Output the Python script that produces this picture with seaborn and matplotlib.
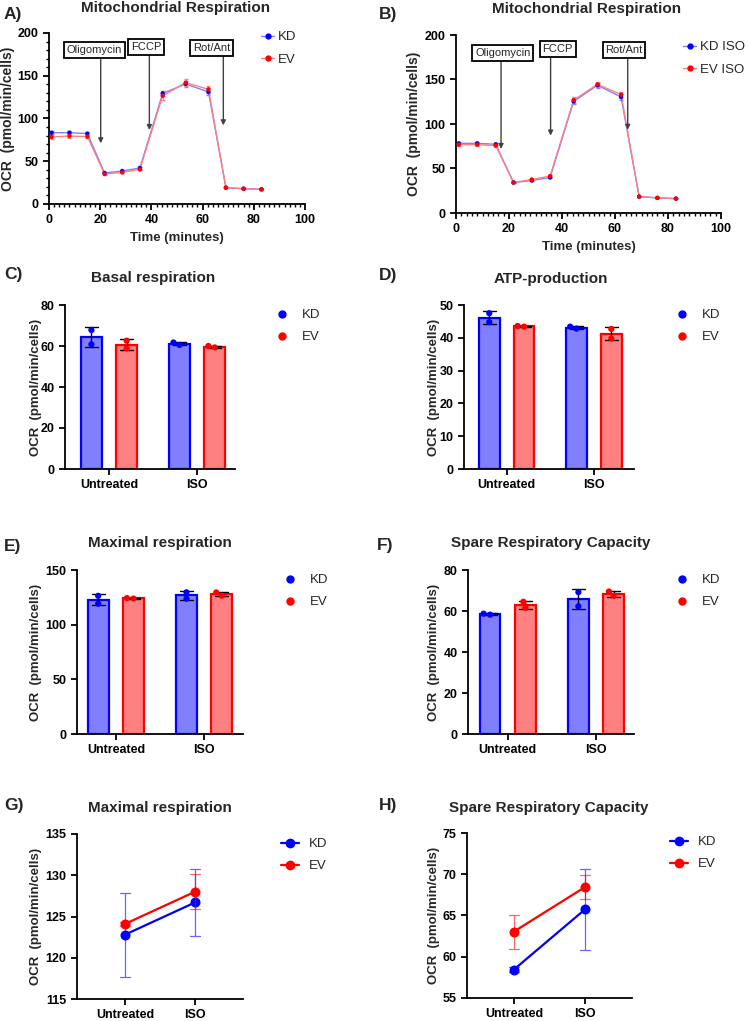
import pandas as pd
import seaborn as sns
import matplotlib.pyplot as plt
import matplotlib.ticker as mticker
from matplotlib.lines import Line2D

# ---------------- data ----------------
# Seahorse trace (A: untreated, B: ISO)
time_min = [1, 8, 15, 21.7, 28.6, 35.5, 44.4, 53.4, 62.3, 69.1, 76, 83]
ocr_kd = [83.4, 83.4, 82.3, 36.3, 38.6, 42.1, 129.4, 140.4, 131.0, 19.1, 17.9, 17.2]
ocr_ev = [78.4, 79.5, 78.8, 35.1, 37.0, 40.5, 126.7, 141.9, 134.1, 19.1, 17.9, 17.2]
sd_kd = [1.5, 1.5, 1.5, 1, 1, 1, 3, 3, 3, 0.5, 0.5, 0.5]
sd_ev = [2, 2, 2, 1, 1, 1, 5, 4, 4, 0.5, 0.5, 0.5]
ocr_kd_iso = [78.3, 78.3, 77.2, 34.2, 36.5, 39.9, 125.4, 143.5, 130.3, 18.4, 17.0, 16.2]
ocr_ev_iso = [76.8, 76.8, 75.7, 34.2, 37.7, 41.4, 126.9, 144.6, 133.0, 18.4, 17.0, 16.2]
sd_kd_iso = [1, 1, 1, 1, 1, 1, 3, 3, 3, 0.5, 0.5, 0.5]
sd_ev_iso = [1, 1, 1, 1, 1, 1, 3, 3, 3, 0.5, 0.5, 0.5]

# replicate values for the summary panels
treatment = ["Untreated"] * 4 + ["ISO"] * 4
cell_line = ["KD", "KD", "EV", "EV"] * 2
basal = [67.8, 60.8, 62.6, 58.8, 60.5, 61.7, 59.3, 60.0]
atp = [47.5, 44.8, 43.6, 43.4, 42.8, 43.4, 42.7, 39.8]
maximal = [126.4, 119.2, 124.3, 123.9, 129.6, 123.8, 129.5, 126.5]
spare = [58.2, 58.7, 64.5, 61.6, 69.2, 62.3, 69.5, 67.4]

treat_order = ["Untreated", "ISO"]
cell_order = ["KD", "EV"]

# ---------------- style ----------------
sns.set_theme(style="ticks")
plt.rcParams["font.family"] = ["Liberation Sans", "DejaVu Sans"]
plt.rcParams.update({
    "font.weight": "bold",
    "axes.labelweight": "bold",
    "axes.linewidth": 1.3,
    "xtick.major.width": 1.3,
    "ytick.major.width": 1.3,
    "xtick.major.size": 4,
    "ytick.major.size": 4,
    "xtick.labelsize": 9,
    "ytick.labelsize": 9,
    "xtick.color": "black",
    "ytick.color": "black",
    "axes.edgecolor": "black",
})

BLUE, RED = "#0000ff", "#ff0000"
LBLUE, LRED = "#8080ff", "#ff8080"

W, H = 748, 1021
fig = plt.figure(figsize=(W / 100, H / 100), dpi=100)


def add_ax(left, top, right, bottom):
    ax = fig.add_axes([left / W, 1 - bottom / H, (right - left) / W, (bottom - top) / H])
    sns.despine(ax=ax)
    return ax


def legend_at(ax, handles, labels, x, y, **kw):
    ax.legend(handles, labels, loc="upper left", bbox_to_anchor=(x / W, 1 - y / H),
              bbox_transform=fig.transFigure, frameon=False, borderpad=0,
              borderaxespad=0, prop={"weight": "normal", "size": 9.5}, **kw)


def ftext(x, y, s, size, **kw):
    fig.text(x / W, 1 - y / H, s, fontsize=size, fontweight="bold", va="center", **kw)


def seahorse(ax, kd, ev, kd_sd, ev_sd, names, boxes, lab_x):
    df = pd.DataFrame({"time": time_min * 2, "ocr": kd + ev,
                       "group": [names[0]] * len(kd) + [names[1]] * len(ev)})
    sns.lineplot(data=df, x="time", y="ocr", hue="group", palette=[LBLUE, LRED],
                 linewidth=1, legend=False, ax=ax)
    ax.errorbar(time_min, kd, yerr=kd_sd, fmt="none", ecolor=LBLUE, elinewidth=0.8, capsize=1.5)
    ax.errorbar(time_min, ev, yerr=ev_sd, fmt="none", ecolor=LRED, elinewidth=0.8, capsize=1.5)
    sns.scatterplot(data=df, x="time", y="ocr", hue="group", palette=[BLUE, RED],
                    s=10, linewidth=0, legend=False, ax=ax, zorder=3)
    for label, bx, by, arx, ary0, ary1 in boxes:
        ax.annotate("", xy=(arx, ary1), xytext=(arx, ary0),
                    arrowprops=dict(arrowstyle="-|>", color="0.25", lw=1,
                                    shrinkA=0, shrinkB=0, mutation_scale=7), zorder=2)
        ax.text(bx, by, label, ha="center", va="center", fontsize=8, fontweight="normal",
                bbox=dict(boxstyle="square,pad=0.25", fc="white", ec="black", lw=1.3), zorder=4)
    ax.set_xlim(0, 100)
    ax.set_ylim(0, 200)
    ax.set_xticks(range(0, 101, 20))
    ax.set_yticks(range(0, 201, 50))
    ax.xaxis.set_minor_locator(mticker.MultipleLocator(2))
    ax.tick_params(axis="x", which="minor", length=2.5, width=1)
    ax.set_xlabel("Time (minutes)", fontsize=9.5)
    ax.set_ylabel("OCR  (pmol/min/cells)", fontsize=10)
    ax.yaxis.set_label_coords(lab_x, 0.5)
    handles = [Line2D([], [], color=LBLUE, lw=1, marker="o", ms=3.5, mfc=BLUE, mec=BLUE),
               Line2D([], [], color=LRED, lw=1, marker="o", ms=3.5, mfc=RED, mec=RED)]
    return handles


def bar_panel(ax, values, ymax, step, xlim, lab_x):
    df = pd.DataFrame({"treatment": treatment, "cell": cell_line, "ocr": values})
    common = dict(data=df, x="treatment", y="ocr", hue="cell", order=treat_order,
                  hue_order=cell_order, width=0.8, gap=0.41, saturation=1,
                  legend=False, ax=ax)
    sns.barplot(**common, palette=[LBLUE, LRED], errorbar=None, linewidth=0)
    sns.barplot(**common, palette=[BLUE, RED], fill=False, linewidth=1.6,
                errorbar="sd", capsize=0.3, err_kws={"color": "black", "linewidth": 1})
    sns.swarmplot(data=df, x="treatment", y="ocr", hue="cell", order=treat_order,
                  hue_order=cell_order, palette=[BLUE, RED], dodge=True, size=4.5,
                  legend=False, ax=ax)
    ax.set_ylim(0, ymax)
    ax.set_yticks(range(0, ymax + 1, step))
    ax.set_xlim(*xlim)
    ax.set_xlabel("")
    ax.set_ylabel("OCR  (pmol/min/cells)", fontsize=9.5)
    ax.yaxis.set_label_coords(lab_x, 0.5)
    handles = [Line2D([], [], ls="none", marker="o", ms=5, color=BLUE),
               Line2D([], [], ls="none", marker="o", ms=5, color=RED)]
    return handles


def point_panel(ax, values, ylim, xlim, lab_x):
    df = pd.DataFrame({"treatment": treatment, "cell": cell_line, "ocr": values})
    sns.pointplot(data=df, x="treatment", y="ocr", hue="cell", order=treat_order,
                  hue_order=cell_order, palette=[BLUE, RED], errorbar="sd", capsize=0.15,
                  markersize=6, linewidth=1.6, err_kws={"linewidth": 0.9, "alpha": 0.6},
                  legend=False, ax=ax)
    ax.set_ylim(*ylim)
    ax.set_yticks(range(ylim[0], ylim[1] + 1, 5))
    ax.set_xlim(*xlim)
    ax.set_xlabel("")
    ax.set_ylabel("OCR  (pmol/min/cells)", fontsize=9.5)
    ax.yaxis.set_label_coords(lab_x, 0.5)
    handles = [Line2D([], [], color=BLUE, lw=1.6, marker="o", ms=6),
               Line2D([], [], color=RED, lw=1.6, marker="o", ms=6)]
    return handles


# ---------------- A ----------------
axA = add_ax(49, 33, 305, 204)
hA = seahorse(axA, ocr_kd, ocr_ev, sd_kd, sd_ev, ["KD", "EV"],
              [("Oligomycin", 17.6, 180, 20.2, 175, 71),
               ("FCCP", 38.0, 183.5, 39.2, 178, 86.5),
               ("Rot/Ant", 63.5, 182.5, 68.1, 178, 92)], -0.133)
axA.yaxis.set_minor_locator(mticker.MultipleLocator(10))
axA.tick_params(axis="y", which="minor", length=2.5, width=1)
legend_at(axA, hA, ["KD", "EV"], 261, 31, handlelength=1.0, handletextpad=0.3, labelspacing=0.8)

# ---------------- B ----------------
axB = add_ax(456, 35, 721, 213)
hB = seahorse(axB, ocr_kd_iso, ocr_ev_iso, sd_kd_iso, sd_ev_iso, ["KD ISO", "EV ISO"],
              [("Oligomycin", 17.7, 180, 17.0, 175, 72),
               ("FCCP", 38.4, 184, 35.7, 178, 87),
               ("Rot/Ant", 63.4, 183, 64.8, 178, 93.5)], -0.132)
legend_at(axB, hB, ["KD ISO", "EV ISO"], 683, 41, handlelength=1.0, handletextpad=0.3, labelspacing=0.8)

# ---------------- C-F ----------------
axC = add_ax(65, 305, 235, 469)
h = bar_panel(axC, basal, 80, 20, (-0.5, 1.43), -0.135)
legend_at(axC, h, cell_order, 275, 309, handlelength=1.0, handletextpad=1.0, labelspacing=0.75)

axD = add_ax(464, 305, 634, 469)
h = bar_panel(axD, atp, 50, 10, (-0.49, 1.46), -0.141)
legend_at(axD, h, cell_order, 675, 309, handlelength=1.0, handletextpad=1.0, labelspacing=0.75)

axE = add_ax(77, 570, 243, 734)
h = bar_panel(axE, maximal, 150, 50, (-0.44, 1.44), -0.211)
legend_at(axE, h, cell_order, 283, 574, handlelength=1.0, handletextpad=1.0, labelspacing=0.75)

axF = add_ax(468, 570, 634, 734)
h = bar_panel(axF, spare, 80, 20, (-0.45, 1.43), -0.169)
legend_at(axF, h, cell_order, 675, 574, handlelength=1.0, handletextpad=1.0, labelspacing=0.75)

# ---------------- G-H ----------------
axG = add_ax(77, 834, 243, 999)
h = point_panel(axG, maximal, (115, 135), (-0.686, 1.686), -0.211)
legend_at(axG, h, cell_order, 281, 838, handlelength=1.4, handletextpad=0.7, labelspacing=0.75)

axH = add_ax(467, 833, 632, 998)
h = point_panel(axH, spare, (55, 75), (-0.66, 1.66), -0.164)
legend_at(axH, h, cell_order, 670, 836, handlelength=1.4, handletextpad=0.7, labelspacing=0.75)

# ---------------- titles & panel letters ----------------
titles = [("Mitochondrial Respiration", 176, 8), ("Mitochondrial Respiration", 587, 9),
          ("Basal respiration", 153, 278), ("ATP-production", 551, 279),
          ("Maximal respiration", 160, 543), ("Spare Respiratory Capacity", 551, 543),
          ("Maximal respiration", 160, 808), ("Spare Respiratory Capacity", 549, 808)]
for s, x, y in titles:
    ftext(x, y, s, 11, ha="center")

letters = [("A)", 4, 14), ("B)", 379, 14), ("C)", 4, 274), ("D)", 379, 275),
           ("E)", 4, 546), ("F)", 377, 545), ("G)", 4, 805), ("H)", 379, 805)]
for s, x, y in letters:
    ftext(x, y, s, 12.5, ha="left")

fig.savefig("out.png", dpi=100)
